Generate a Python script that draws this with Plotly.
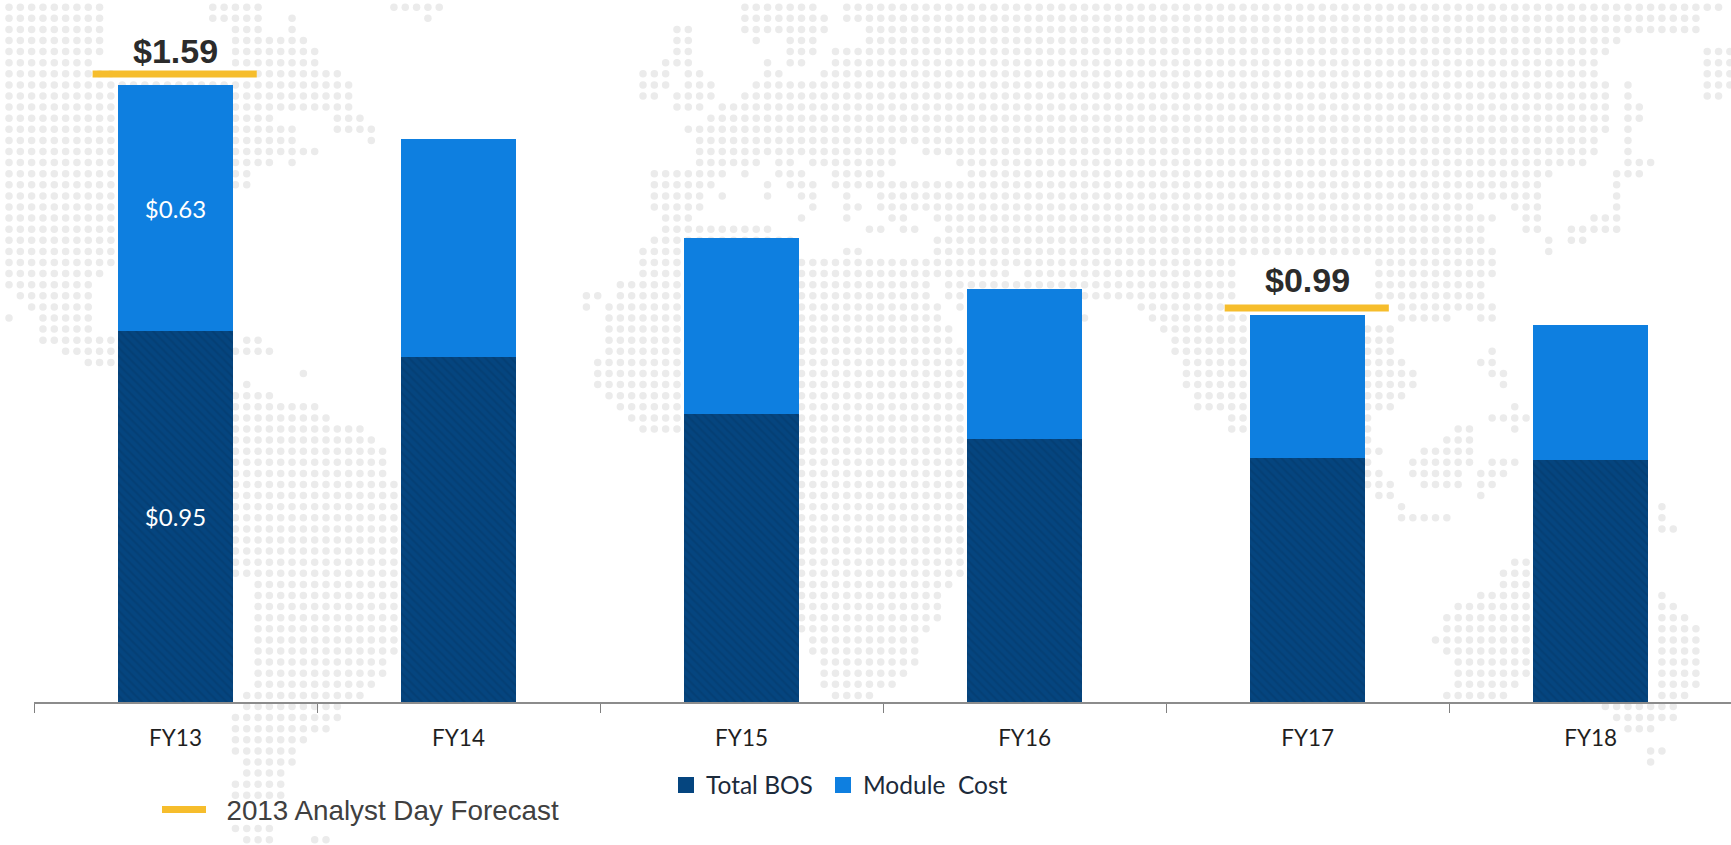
import plotly.graph_objects as go

# Cost per watt by fiscal year, stacked
YEARS = ["FY13", "FY14", "FY15", "FY16", "FY17", "FY18"]
TOTAL_BOS = [0.95, 0.885, 0.738, 0.673, 0.625, 0.619]
MODULE_COST = [0.63, 0.557, 0.452, 0.385, 0.366, 0.346]

# 2013 Analyst Day forecast, stated for two years only
FORECAST_YEARS = ["FY13", "FY17"]
FORECAST_VALUES = [1.59, 0.99]
FORECAST_LABELS = ["$1.59", "$0.99"]

BOS_LABELS = ["$0.95", "", "", "", "", ""]
MODULE_LABELS = ["$0.63", "", "", "", "", ""]

# Backdrop world map: for each dot row, the runs of dot columns that are land
LAND_ROWS = {
    -1: [(0, 8), (18, 22), (34, 38), (65, 71), (74, 151)],
    0: [(0, 8), (18, 22), (25, 25), (37, 37), (65, 72), (74, 149)],
    1: [(0, 8), (20, 22), (25, 25), (59, 60), (65, 72), (76, 149)],
    2: [(0, 8), (20, 26), (59, 60), (66, 66), (69, 71), (76, 142)],
    3: [(0, 8), (20, 27), (59, 60), (69, 71), (73, 141), (150, 152)],
    4: [(0, 7), (20, 27), (58, 60), (67, 67), (69, 70), (73, 140), (150, 152)],
    5: [(0, 9), (22, 29), (56, 58), (60, 61), (67, 68), (72, 140), (150, 152)],
    6: [(0, 30), (56, 58), (60, 62), (66, 141), (143, 143), (150, 152)],
    7: [(0, 30), (56, 57), (59, 62), (65, 141), (143, 143), (150, 151)],
    8: [(0, 30), (59, 61), (63, 141), (143, 144)],
    9: [(0, 23), (29, 31), (62, 141), (143, 144)],
    10: [(0, 25), (29, 32), (60, 141), (143, 143)],
    11: [(0, 25), (32, 32), (61, 140), (143, 143)],
    12: [(0, 27), (61, 78), (81, 140), (143, 143)],
    13: [(0, 23), (25, 25), (61, 66), (68, 69), (71, 78), (84, 139), (143, 145)],
    14: [(0, 21), (57, 63), (65, 65), (68, 70), (73, 77), (85, 136), (142, 144)],
    15: [(0, 21), (57, 62), (67, 67), (69, 71), (73, 135), (142, 142)],
    16: [(0, 9), (57, 61), (63, 63), (67, 67), (70, 71), (74, 74), (77, 135), (142, 142)],
    17: [(0, 9), (57, 61), (71, 71), (74, 75), (77, 129), (133, 135), (142, 142)],
    18: [(0, 9), (58, 60), (70, 70), (74, 74), (78, 79), (82, 131), (134, 135), (140, 142)],
    19: [(0, 9), (58, 67), (76, 77), (79, 80), (83, 130), (134, 135), (138, 142)],
    20: [(0, 9), (57, 69), (82, 130), (136, 136), (138, 139)],
    21: [(0, 9), (56, 69), (74, 75), (82, 131), (136, 136)],
    22: [(0, 9), (56, 108), (121, 131)],
    23: [(0, 8), (56, 88), (90, 108), (121, 131)],
    24: [(0, 7), (54, 81), (83, 90), (91, 108), (121, 130)],
    25: [(1, 7), (51, 52), (54, 81), (83, 108), (121, 130)],
    26: [(2, 7), (51, 51), (53, 82), (84, 94), (100, 107), (123, 131)],
    27: [(0, 0), (3, 7), (53, 82), (95, 95), (101, 109), (123, 127), (130, 131)],
    28: [(3, 7), (53, 83), (94, 94), (102, 122)],
    29: [(3, 9), (21, 22), (53, 83), (94, 94), (103, 122)],
    30: [(5, 9), (20, 23), (53, 84), (103, 122), (131, 131)],
    31: [(7, 9), (52, 84), (104, 123), (130, 131)],
    32: [(26, 26), (52, 84), (104, 124), (131, 132)],
    33: [(21, 21), (52, 84), (104, 124), (132, 132)],
    34: [(20, 23), (53, 84), (105, 123)],
    35: [(20, 27), (54, 84), (105, 122), (133, 133)],
    36: [(20, 28), (55, 84), (108, 120), (131, 134)],
    37: [(20, 31), (56, 84), (108, 120), (128, 129), (133, 133)],
    38: [(20, 32), (66, 84), (120, 120), (127, 129)],
    39: [(20, 33), (69, 84), (120, 121), (125, 129)],
    40: [(20, 33), (69, 84), (120, 120), (124, 129), (131, 133)],
    41: [(20, 33), (69, 84), (120, 121), (124, 128), (130, 132)],
    42: [(20, 34), (69, 84), (120, 122), (125, 128), (130, 131)],
    43: [(20, 34), (69, 84), (121, 122), (130, 130)],
    44: [(20, 34), (69, 84), (123, 123), (146, 146)],
    45: [(20, 34), (69, 84), (123, 127), (146, 146)],
    46: [(20, 34), (69, 84), (146, 147)],
    47: [(20, 34), (69, 84)],
    48: [(20, 34), (69, 84)],
    49: [(20, 34), (69, 84), (133, 135)],
    50: [(20, 34), (69, 84), (132, 135)],
    51: [(22, 34), (69, 83), (132, 135)],
    52: [(22, 34), (69, 82), (130, 135), (146, 146)],
    53: [(22, 34), (69, 82), (128, 135), (146, 147)],
    54: [(22, 34), (69, 82), (127, 135), (146, 148)],
    55: [(22, 34), (69, 81), (127, 135), (146, 149)],
    56: [(22, 34), (71, 80), (126, 135), (146, 149)],
    57: [(22, 34), (71, 80), (127, 135), (146, 149)],
    58: [(22, 33), (72, 80), (128, 135), (146, 149)],
    59: [(22, 33), (72, 79), (128, 135), (146, 149)],
    60: [(22, 32), (72, 78), (128, 133), (146, 149)],
    61: [(21, 31), (73, 76), (127, 132), (146, 148)],
    62: [(21, 29), (141, 147)],
    63: [(20, 29), (142, 147)],
    64: [(20, 28), (143, 145)],
    65: [(20, 26)],
    66: [(20, 25), (145, 146)],
    67: [(21, 25), (145, 145)],
    68: [(21, 24)],
    69: [(20, 24)],
    70: [(20, 24)],
    73: [(20, 23)],
    74: [(21, 23), (27, 28)],
}

NAVY = "#05457f"
NAVY_STRIPE = "#033a6c"
BLUE = "#0e7fe0"
GOLD = "#f6bd2c"
BODY_FONT = "Lato"

dot_cols = []
dot_rows = []
for row, runs in LAND_ROWS.items():
    for start, end in runs:
        for col in range(start, end + 1):
            dot_cols.append(col)
            dot_rows.append(row)

fig = go.Figure()

# Dot map on its own full-page axes, so it sits behind the bars
fig.add_trace(go.Scatter(
    x=dot_cols, y=dot_rows, mode="markers", showlegend=False, hoverinfo="skip",
    marker=dict(symbol="circle", size=7.5, color="#ebebeb"),
    xaxis="x", yaxis="y",
))

fig.add_trace(go.Bar(
    x=YEARS, y=TOTAL_BOS, name="Total BOS", showlegend=False, width=0.405,
    marker=dict(color=NAVY, line_width=0,
                pattern=dict(shape="\\", size=6, solidity=0.4,
                             fgcolor=NAVY_STRIPE, bgcolor=NAVY)),
    text=BOS_LABELS, textposition="inside", insidetextanchor="middle",
    textangle=0, textfont=dict(family=BODY_FONT, size=24, color="#ffffff"),
    xaxis="x2", yaxis="y2",
))
fig.add_trace(go.Bar(
    x=YEARS, y=MODULE_COST, name="Module  Cost", showlegend=False, width=0.405,
    marker=dict(color=BLUE, line_width=0),
    text=MODULE_LABELS, textposition="inside", insidetextanchor="middle",
    textangle=0, textfont=dict(family=BODY_FONT, size=24, color="#ffffff"),
    xaxis="x2", yaxis="y2",
))

# Legend entries, one legend each so they can be spaced independently
for name, colour, legend_id in (("Total BOS", NAVY, "legend"), ("Module  Cost", BLUE, "legend3")):
    fig.add_trace(go.Scatter(
        x=[None], y=[None], mode="markers", name=name, hoverinfo="skip", showlegend=True,
        marker=dict(symbol="square", size=17, color=colour),
        xaxis="x2", yaxis="y2", legend=legend_id,
    ))
fig.add_trace(go.Scatter(
    x=[None], y=[None], mode="lines", name="\u00a0\u00a02013 Analyst Day Forecast",
    hoverinfo="skip", showlegend=True, line=dict(color=GOLD, width=7),
    xaxis="x2", yaxis="y2", legend="legend2",
))

# Forecast caps sit just above the value they mark, with the figure over them
shapes = []
annotations = []
for year, value, label, lift in zip(FORECAST_YEARS, FORECAST_VALUES, FORECAST_LABELS, (30.5, 35.5)):
    i = YEARS.index(year)
    shapes.append(dict(
        type="rect", xref="x2", yref="y2", ysizemode="pixel", yanchor=value,
        x0=i - 0.293, x1=i + 0.287, y0=4, y1=11, line_width=0, fillcolor=GOLD,
    ))
    annotations.append(dict(
        x=year, y=value, xref="x2", yref="y2", yshift=lift, text=f"<b>{label}</b>",
        showarrow=False, borderpad=0,
        font=dict(family="Liberation Sans", size=34, color="#2b2b2b"),
    ))

# Clear the dots directly behind the forecast figures
for year, value in zip(FORECAST_YEARS, FORECAST_VALUES):
    i = YEARS.index(year)
    shapes.append(dict(
        type="rect", xref="x2", yref="y2", ysizemode="pixel", yanchor=value,
        x0=i - 0.2, x1=i + 0.2, y0=11, y1=48, line_width=0, fillcolor="#ffffff",
        layer="between",
    ))

legend_common = dict(xanchor="left", yanchor="middle", bgcolor="rgba(0,0,0,0)")
fig.update_layout(
    width=1731, height=845, autosize=False,
    margin=dict(l=0, r=0, t=0, b=0, pad=0),
    paper_bgcolor="#ffffff", plot_bgcolor="rgba(0,0,0,0)",
    barmode="stack", shapes=shapes, annotations=annotations,
    xaxis=dict(domain=[0, 1], range=[-0.795, 152.1], visible=False, fixedrange=True),
    yaxis=dict(domain=[0, 1], range=[74.48, -1.649], visible=False, fixedrange=True),
    xaxis2=dict(
        domain=[34 / 1731, 1], anchor="y2", type="category",
        categoryorder="array", categoryarray=YEARS, range=[-0.5, 5.496],
        tickson="boundaries", ticks="outside", ticklen=9, tickwidth=1.2,
        tickcolor="#808080", showline=True, linecolor="#8c8c8c", linewidth=1.6,
        showgrid=False, zeroline=False, ticklabelstandoff=15,
        tickfont=dict(family=BODY_FONT, size=22.5, color="#1f1f1f"),
    ),
    yaxis2=dict(
        domain=[143 / 845, 1], anchor="x2", range=[0, 1.7986],
        visible=False, showgrid=False, zeroline=False,
    ),
    legend=dict(
        x=666 / 1731, y=1 - 785 / 845, itemwidth=30,
        font=dict(family=BODY_FONT, size=24.5, color="#1c2a3a"), **legend_common,
    ),
    legend3=dict(
        x=823 / 1731, y=1 - 785 / 845, itemwidth=30,
        font=dict(family=BODY_FONT, size=24.5, color="#1c2a3a"), **legend_common,
    ),
    legend2=dict(
        x=(162 - 5) / 1731, y=1 - 810 / 845, itemwidth=44,
        font=dict(family="Liberation Sans", size=27.8, color="#404040"), **legend_common,
    ),
)

fig.write_html("out.html")
